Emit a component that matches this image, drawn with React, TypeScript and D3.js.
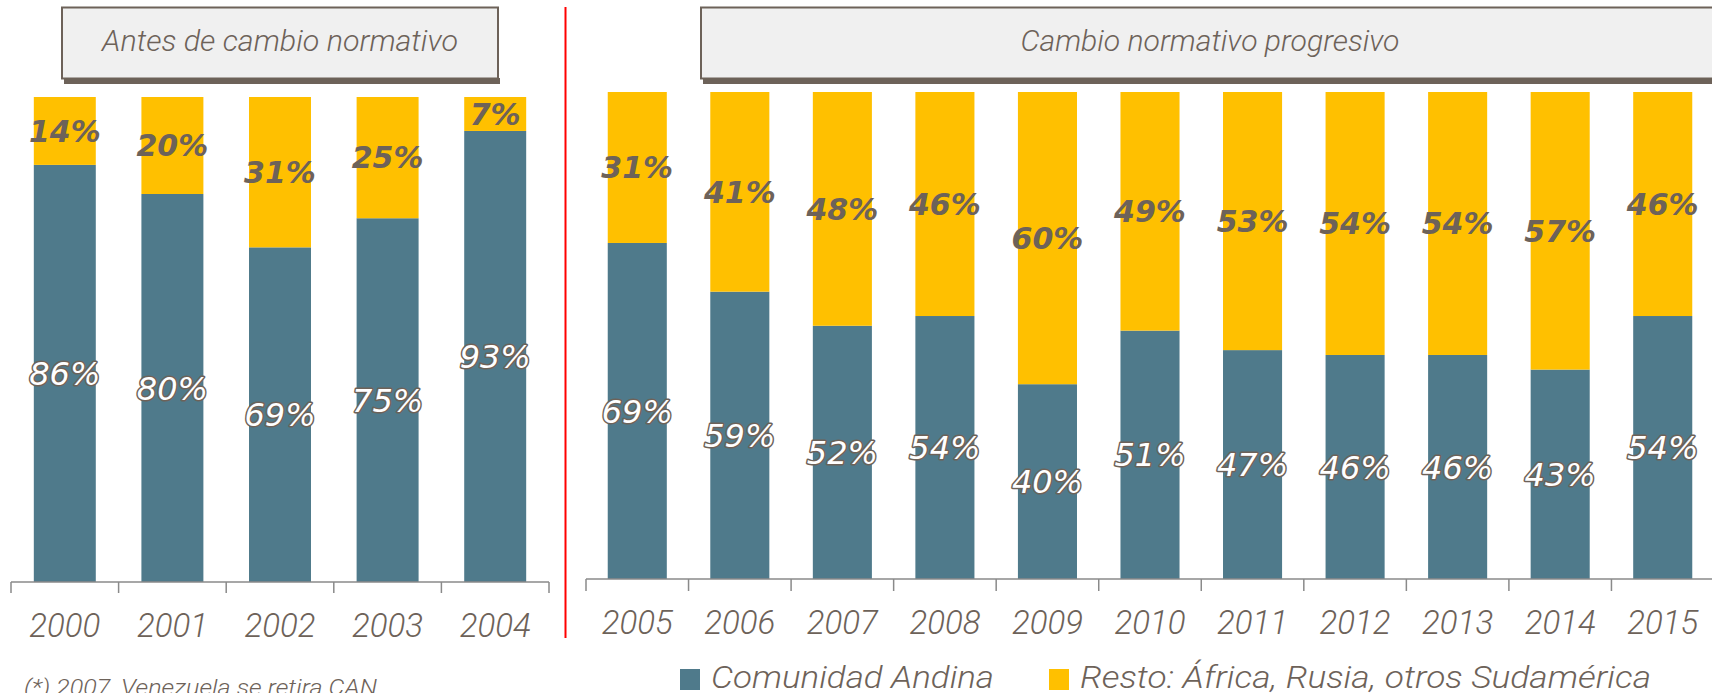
import React from 'react';
import * as d3 from 'd3';

const yearsBefore = ['2000', '2001', '2002', '2003', '2004'];
const canBefore = [86, 80, 69, 75, 93];
const restBefore = [14, 20, 31, 25, 7];

const yearsAfter = ['2005', '2006', '2007', '2008', '2009', '2010', '2011', '2012', '2013', '2014', '2015'];
const canAfter = [69, 59, 52, 54, 40, 51, 47, 46, 46, 43, 54];
const restAfter = [31, 41, 48, 46, 60, 49, 53, 54, 54, 57, 46];

const seriesNames = ['Comunidad Andina', 'Resto: África, Rusia, otros Sudamérica'];
const panelTitles = ['Antes de cambio normativo', 'Cambio normativo progresivo'];
const footnote = '(*) 2007, Venezuela se retira CAN';

const BLUE = '#4f7a8b';
const YELLOW = '#ffc000';
const INK = '#6d6259';
const AXIS = '#8a8a8a';
const FONT = '"DejaVu Sans", sans-serif';
const LIGHT = 'Roboto, "DejaVu Sans", sans-serif';

type PanelProps = {
  years: string[];
  can: number[];
  rest: number[];
  xRange: [number, number];
  yRange: [number, number];
  tickEnd: number;
  labelY: number;
};

function Panel({ years, can, rest, xRange, yRange, tickEnd, labelY }: PanelProps) {
  const rows = years.map((y, i) => ({ year: y, can: can[i], rest: rest[i] }));
  const x = d3.scaleBand<string>().domain(years).range(xRange).paddingInner(0.424).paddingOuter(0.212);
  const y = d3.scaleLinear().domain([0, 100]).range(yRange);
  const stack = d3.stack<any>().keys(['can', 'rest']);
  const series = stack(rows);
  const colors = [BLUE, YELLOW];
  const step = x.step();
  const ticks = d3.range(years.length + 1).map((i) => xRange[0] + i * step);
  return (
    <g>
      {series.map((s, si) => (
        <g key={s.key}>
          {s.map((d, i) => (
            <rect
              key={i}
              x={x(rows[i].year)}
              width={x.bandwidth()}
              y={y(d[1])}
              height={y(d[0]) - y(d[1])}
              fill={colors[si]}
            />
          ))}
        </g>
      ))}
      {series.map((s, si) => (
        <g key={'l' + s.key}>
          {s.map((d, i) => {
            const cx = (x(rows[i].year) as number) + x.bandwidth() / 2;
            const cy = (y(d[0]) + y(d[1])) / 2;
            const v = si === 0 ? rows[i].can : rows[i].rest;
            return si === 0 ? (
              <text
                key={i}
                x={cx}
                y={cy}
                dy="0.36em"
                textAnchor="middle"
                fontFamily={FONT}
                fontStyle="italic"
                fontSize={32}
                fill="#ffffff"
                stroke={INK}
                strokeWidth={3}
                strokeLinejoin="round"
                paintOrder="stroke"
              >
                {v}%
              </text>
            ) : (
              <text
                key={i}
                x={cx}
                y={cy}
                dy="0.36em"
                textAnchor="middle"
                fontFamily={FONT}
                fontStyle="italic"
                fontWeight="bold"
                fontSize={30}
                fill={INK}
              >
                {v}%
              </text>
            );
          })}
        </g>
      ))}
      <line x1={xRange[0]} x2={xRange[1]} y1={yRange[0]} y2={yRange[0]} stroke={AXIS} strokeWidth={1.5} />
      {ticks.map((t, i) => (
        <line key={i} x1={t} x2={t} y1={yRange[0]} y2={tickEnd} stroke={AXIS} strokeWidth={1.5} />
      ))}
      {years.map((yr) => (
        <text
          key={yr}
          x={(x(yr) as number) + x.bandwidth() / 2}
          y={labelY}
          textAnchor="middle"
          fontFamily={LIGHT}
          fontStyle="italic"
          fontWeight={300}
          fontSize={33}
          fill={INK}
        >
          {yr}
        </text>
      ))}
    </g>
  );
}

function TitleBox({ x0, x1, cx, text, tl }: { x0: number; x1: number; cx: number; text: string; tl: number }) {
  return (
    <g>
      <rect x={x0 + 2} y={78} width={x1 - x0} height={6} fill={INK} />
      <rect x={x0} y={7.5} width={x1 - x0} height={71} fill="#f0f0f0" stroke={INK} strokeWidth={2} />
      <text
        x={cx}
        y={51}
        textAnchor="middle"
        fontFamily={LIGHT}
        fontStyle="italic"
        fontWeight={300}
        fontSize={29}
        fill={INK}
        textLength={tl}
        lengthAdjust="spacingAndGlyphs"
      >
        {text}
      </text>
    </g>
  );
}

export default function App() {
  return (
    <svg
      width={1712}
      height={693}
      style={{ position: 'absolute', left: 0, top: 0, background: '#ffffff' }}
    >
      <TitleBox x0={62} x1={498} cx={280} text={panelTitles[0]} tl={356} />
      <TitleBox x0={701} x1={1722} cx={1210} text={panelTitles[1]} tl={379} />
      <Panel
        years={yearsBefore}
        can={canBefore}
        rest={restBefore}
        xRange={[11, 549]}
        yRange={[582, 97]}
        tickEnd={593}
        labelY={637}
      />
      <Panel
        years={yearsAfter}
        can={canAfter}
        rest={restAfter}
        xRange={[586, 1714]}
        yRange={[579, 92]}
        tickEnd={591}
        labelY={634}
      />
      <line x1={565.5} x2={565.5} y1={7} y2={638} stroke="#ff0000" strokeWidth={2} />
      <rect x={680} y={669} width={20} height={21} fill={BLUE} />
      <text x={711} y={688} fontFamily={LIGHT} fontStyle="italic" fontWeight={300} fontSize={32} fill={INK} textLength={283} lengthAdjust="spacingAndGlyphs">
        {seriesNames[0]}
      </text>
      <rect x={1049} y={669} width={20} height={21} fill={YELLOW} />
      <text x={1080} y={688} fontFamily={LIGHT} fontStyle="italic" fontWeight={300} fontSize={32} fill={INK} textLength={571} lengthAdjust="spacingAndGlyphs">
        {seriesNames[1]}
      </text>
      <text x={24} y={695} fontFamily={LIGHT} fontStyle="italic" fontWeight={300} fontSize={22} fill={INK} textLength={353} lengthAdjust="spacingAndGlyphs">
        {footnote}
      </text>
    </svg>
  );
}
